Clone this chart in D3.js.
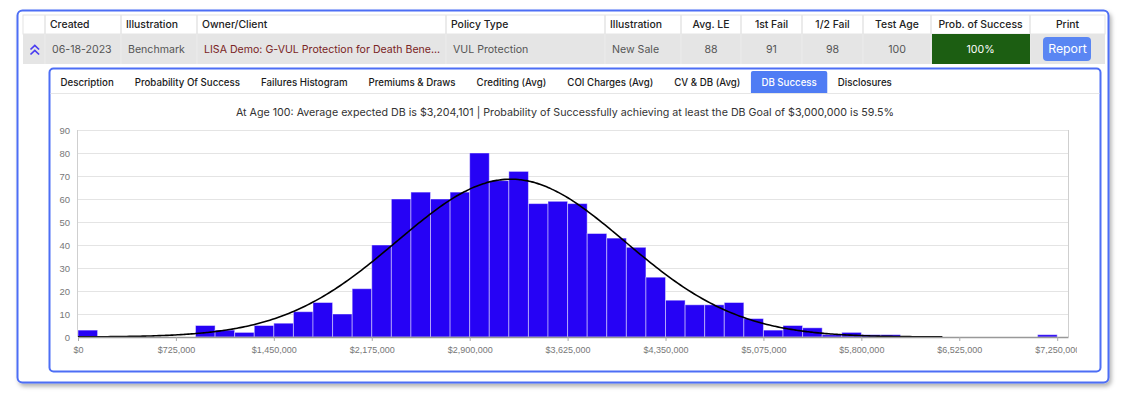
<!DOCTYPE html>
<html>
<head>
<meta charset="utf-8">
<script src="https://cdn.jsdelivr.net/npm/d3@7"></script>
<style>
  html, body { margin: 0; padding: 0; background: #fff; }
  svg { display: block; }
</style>
</head>
<body>
<svg id="page" width="1130" height="396"></svg>
<script>
// table
const headers = ['', 'Created', 'Illustration', 'Owner/Client', 'Policy Type', 'Illustration',
  'Avg. LE', '1st Fail', '1/2 Fail', 'Test Age', 'Prob. of Success', 'Print'];
const rowValues = ['', '06-18-2023', 'Benchmark', 'LISA Demo: G-VUL Protection for Death Bene...',
  'VUL Protection', 'New Sale', '88', '91', '98', '100', '100%', 'Report'];
const tabs = ['Description', 'Probability Of Success', 'Failures Histogram', 'Premiums & Draws',
  'Crediting (Avg)', 'COI Charges (Avg)', 'CV & DB (Avg)', 'DB Success', 'Disclosures'];
const activeTab = 'DB Success';

// histogram: counts per $145,000 bin starting at $0
const binWidth = 145000;
const binCounts = [3, 0, 0, 0, 0, 0, 5, 3, 2, 5,
  6, 11, 15, 10, 21, 40, 60, 63, 60, 63,
  80, 68, 72, 58, 59, 58, 45, 43, 39, 26,
  16, 14, 14, 15, 8, 3, 5, 4, 1, 2,
  1, 1, 0, 0, 0, 0, 0, 0, 0, 1];
const xTicks = [0, 725000, 1450000, 2175000, 2900000, 3625000, 4350000, 5075000, 5800000, 6525000, 7250000];
const yTicks = [0, 10, 20, 30, 40, 50, 60, 70, 80, 90];
const ageTested = 100;
const avgDb = 3204101;
const dbGoal = 3000000;
const successPct = 59.5;
const fitSd = 843000;
const fitEnd = 6400000;

const svg = d3.select('#page');
const UI = 'Inter, "Noto Sans", sans-serif';
const BLUE = '#4d6ef5';

// card shadow
const defs = svg.append('defs');
const shadow = defs.append('filter').attr('id', 'shadow')
  .attr('x', '-5%').attr('y', '-10%').attr('width', '110%').attr('height', '125%');
shadow.append('feDropShadow').attr('dx', 2).attr('dy', 3)
  .attr('stdDeviation', 2).attr('flood-color', '#000').attr('flood-opacity', 0.3);

svg.append('rect')
  .attr('x', 17.5).attr('y', 10.5).attr('width', 1091).attr('height', 372)
  .attr('rx', 5).attr('fill', '#fff')
  .attr('stroke', BLUE).attr('stroke-width', 2)
  .attr('filter', 'url(#shadow)');

// ---- table ----
const colEdges = [23, 45, 121, 197, 446, 605, 681, 741, 802, 863, 931, 1030, 1105];
const leftCols = [1, 2, 3, 4, 5];
const headTop = 15, headBottom = 34, rowBottom = 64;

const table = svg.append('g');
table.append('rect')
  .attr('x', colEdges[0]).attr('y', headTop)
  .attr('width', colEdges[12] - colEdges[0]).attr('height', headBottom - headTop)
  .attr('fill', '#fff').attr('stroke', '#e4e4e4');
table.append('rect')
  .attr('x', colEdges[0]).attr('y', headBottom)
  .attr('width', colEdges[12] - colEdges[0]).attr('height', rowBottom - headBottom)
  .attr('fill', '#e5e5e5');

headers.forEach((h, i) => {
  const x0 = colEdges[i], x1 = colEdges[i + 1];
  if (i > 0) {
    table.append('line').attr('x1', x0).attr('x2', x0).attr('y1', headTop).attr('y2', headBottom)
      .attr('stroke', '#e4e4e4').attr('stroke-width', 1.5);
    table.append('line').attr('x1', x0).attr('x2', x0).attr('y1', headBottom).attr('y2', rowBottom)
      .attr('stroke', '#ececec').attr('stroke-width', 1);
  }
  const isLeft = leftCols.includes(i);
  table.append('text')
    .attr('x', isLeft ? x0 + 5 : (x0 + x1) / 2)
    .attr('y', 28)
    .attr('text-anchor', isLeft ? 'start' : 'middle')
    .attr('font-family', UI).attr('font-size', 10.4).attr('font-weight', 500)
    .attr('fill', '#222')
    .text(h);
});

// green success cell
table.append('rect')
  .attr('x', colEdges[10] + 1).attr('y', headBottom)
  .attr('width', colEdges[11] - colEdges[10] - 1).attr('height', rowBottom - headBottom)
  .attr('fill', '#1c5e12');
// report button
table.append('rect')
  .attr('x', 1043).attr('y', 37).attr('width', 48).attr('height', 24).attr('rx', 4)
  .attr('fill', '#5a86f3');

rowValues.forEach((v, i) => {
  if (!v) return;
  const x0 = colEdges[i], x1 = colEdges[i + 1];
  const isLeft = leftCols.includes(i);
  let fill = '#555', size = 10.6;
  if (i === 3) fill = '#7a2424';
  if (i === 10) fill = '#fff';
  if (i === 11) { fill = '#fff'; size = 12.3; }
  table.append('text')
    .attr('x', isLeft ? x0 + 7 : (x0 + x1) / 2)
    .attr('y', 53)
    .attr('text-anchor', isLeft ? 'start' : 'middle')
    .attr('font-family', UI).attr('font-size', size)
    .attr('fill', fill)
    .text(v);
});

// expand chevrons
[45.5, 50.5].forEach(y => {
  table.append('path')
    .attr('d', `M30.5,${y + 4} L34.8,${y} L39.1,${y + 4}`)
    .attr('fill', 'none').attr('stroke', '#4a3cf0').attr('stroke-width', 1.7);
});

// ---- inner panel ----
svg.append('rect')
  .attr('x', 49.5).attr('y', 68.5).attr('width', 1051).attr('height', 303)
  .attr('rx', 4).attr('fill', '#fff')
  .attr('stroke', BLUE).attr('stroke-width', 2);

svg.append('line')
  .attr('x1', 50.5).attr('x2', 1099.5).attr('y1', 93.5).attr('y2', 93.5)
  .attr('stroke', '#e6e6e6');

// tabs
const tabG = svg.append('g');
let tx = 50;
tabs.forEach(t => {
  const g = tabG.append('g');
  const txt = g.append('text')
    .attr('y', 86)
    .attr('font-family', UI).attr('font-size', 9.7).attr('font-weight', 500)
    .attr('fill', t === activeTab ? '#fff' : '#1a1a1a')
    .text(t);
  const w = txt.node().getComputedTextLength();
  const pad = 10.5;
  if (t === activeTab) {
    g.insert('path', 'text')
      .attr('d', `M${tx},93 L${tx},73 Q${tx},71 ${tx + 2},71 L${tx + w + 2 * pad - 2},71 Q${tx + w + 2 * pad},71 ${tx + w + 2 * pad},73 L${tx + w + 2 * pad},93 Z`)
      .attr('fill', '#4f7cf4');
  }
  txt.attr('x', tx + pad);
  tx += w + 2 * pad;
});

// title
svg.append('text')
  .attr('x', 565).attr('y', 116)
  .attr('text-anchor', 'middle')
  .attr('font-family', UI).attr('font-size', 10.7)
  .attr('fill', '#333')
  .text(`At Age ${ageTested}: Average expected DB is ${d3.format('$,')(avgDb)} | Probability of Successfully achieving at least the DB Goal of ${d3.format('$,')(dbGoal)} is ${successPct}%`);

// ---- histogram ----
const plot = { left: 78, right: 1068, top: 130, bottom: 337 };
const x = d3.scaleLinear().domain([0, 7330000]).range([plot.left, plot.right]);
const y = d3.scaleLinear().domain([0, 90]).range([plot.bottom, plot.top]);

defs.append('clipPath').attr('id', 'chartClip')
  .append('rect').attr('x', 0).attr('y', 120).attr('width', 1077).attr('height', 250);

const chart = svg.append('g').attr('clip-path', 'url(#chartClip)');

chart.append('g')
  .selectAll('line')
  .data(yTicks.slice(1))
  .join('line')
  .attr('x1', plot.left).attr('x2', plot.right)
  .attr('y1', d => Math.round(y(d)) + 0.5).attr('y2', d => Math.round(y(d)) + 0.5)
  .attr('stroke', '#e4e4e4');

chart.append('line')
  .attr('x1', plot.right + 0.5).attr('x2', plot.right + 0.5)
  .attr('y1', plot.top).attr('y2', plot.bottom)
  .attr('stroke', '#cfcfcf');
chart.append('line')
  .attr('x1', plot.left - 0.5).attr('x2', plot.left - 0.5)
  .attr('y1', plot.top).attr('y2', plot.bottom)
  .attr('stroke', '#cfcfcf');

const bins = binCounts.map((c, i) => ({ x0: i * binWidth, x1: (i + 1) * binWidth, count: c }));

chart.append('g')
  .selectAll('rect')
  .data(bins.filter(b => b.count > 0))
  .join('rect')
  .attr('x', d => x(d.x0))
  .attr('y', d => y(d.count))
  .attr('width', d => x(d.x1) - x(d.x0))
  .attr('height', d => y(0) - y(d.count))
  .attr('fill', '#2602f5')
  .attr('stroke', 'rgba(255,255,255,0.45)')
  .attr('stroke-width', 1);

// normal fit over the histogram
const total = d3.sum(binCounts);
const pdf = v => Math.exp(-0.5 * ((v - avgDb) / fitSd) ** 2) / (fitSd * Math.sqrt(2 * Math.PI));
const fitPts = d3.range(0, fitEnd + 1, 20000).map(v => [v, total * binWidth * pdf(v)]);
chart.append('path')
  .datum(fitPts)
  .attr('fill', 'none')
  .attr('stroke', '#000')
  .attr('stroke-width', 1.6)
  .attr('d', d3.line().x(d => x(d[0])).y(d => y(d[1])).curve(d3.curveMonotoneX));

// axes
const xAxis = chart.append('g')
  .attr('transform', `translate(0,${plot.bottom})`)
  .call(d3.axisBottom(x).tickValues(xTicks).tickFormat(d3.format('$,')).tickSize(4).tickSizeOuter(0));
xAxis.select('.domain').attr('stroke', '#999').attr('stroke-width', 1.5);
xAxis.selectAll('.tick line').attr('stroke', '#aaa');
xAxis.selectAll('.tick text')
  .attr('fill', '#777').attr('font-size', 9)
  .attr('font-family', 'Arial, "Liberation Sans", sans-serif')
  .attr('dy', '0.71em').attr('y', 10);

const yAxis = chart.append('g')
  .attr('transform', `translate(${plot.left},0)`)
  .call(d3.axisLeft(y).tickValues(yTicks).tickSize(0).tickPadding(8));
yAxis.select('.domain').remove();
yAxis.selectAll('.tick text')
  .attr('fill', '#777').attr('font-size', 9.5)
  .attr('font-family', 'Arial, "Liberation Sans", sans-serif');
</script>
</body>
</html>
